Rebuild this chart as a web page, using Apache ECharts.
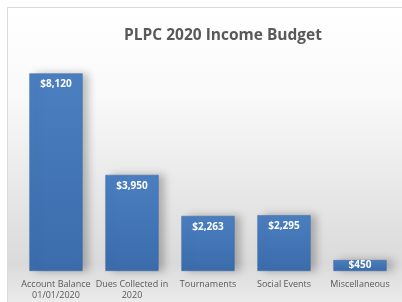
<!DOCTYPE html>
<html><head><meta charset="utf-8">
<script src="https://cdn.jsdelivr.net/npm/echarts@6/dist/echarts.min.js"></script>
<style>html,body{margin:0;padding:0;background:#fff}#c{width:402px;height:302px}</style>
</head><body><div id="c"></div>
<script>
var categories = ['Account Balance\n01/01/2020', 'Dues Collected in\n2020', 'Tournaments', 'Social Events', 'Miscellaneous'];
var values = [8120, 3950, 2263, 2295, 450];
var titleText = 'PLPC 2020 Income Budget';

var chart = echarts.init(document.getElementById('c'));
var barData = values.map(function (v) {
  var d = {value: v};
  if (v < 1000) d.label = {position: 'inside'};
  return d;
});
chart.setOption({
  animation: false,
  graphic: [{
    type: 'rect', z: -10, silent: true,
    shape: {x: 7.5, y: 7.5, width: 400, height: 300},
    style: {
      fill: new echarts.graphic.LinearGradient(0, 0, 0, 1, [
        {offset: 0, color: '#ffffff'},
        {offset: 0.3, color: '#f9f9f9'},
        {offset: 0.85, color: '#dadada'},
        {offset: 1, color: '#eeeeee'}
      ]),
      stroke: '#d9d9d9', lineWidth: 1
    }
  }],
  title: {
    text: titleText, left: 218, top: 23, textAlign: 'center',
    textStyle: {fontFamily: 'Open Sans', fontWeight: 'bold', fontSize: 15.5, color: '#595959'}
  },
  grid: {left: 18, right: 4, top: 52, bottom: 31, containLabel: false},
  xAxis: {
    type: 'category', data: categories,
    axisLine: {show: false}, axisTick: {show: false},
    axisLabel: {interval: 0, margin: 8, fontFamily: 'Open Sans', fontSize: 9, color: '#595959', lineHeight: 11}
  },
  yAxis: {type: 'value', min: 0, max: 9000, show: false, splitLine: {show: false}},
  series: [{
    type: 'bar', data: barData, barWidth: '70%',
    itemStyle: {
      color: new echarts.graphic.LinearGradient(0, 0, 0, 1, [
        {offset: 0, color: '#4b7fc0'},
        {offset: 1, color: '#3b6cac'}
      ]),
      borderColor: '#3a69a6', borderWidth: 0.5,
      shadowColor: 'rgba(0,0,0,0.25)', shadowBlur: 8, shadowOffsetX: 6, shadowOffsetY: 0
    },
    label: {
      show: true, position: 'insideTop', distance: 6,
      fontFamily: 'Open Sans', fontWeight: 'bold', fontSize: 10, color: '#ffffff',
      formatter: function (p) { return '$' + p.value.toLocaleString('en-US'); }
    }
  }]
});
</script></body></html>
